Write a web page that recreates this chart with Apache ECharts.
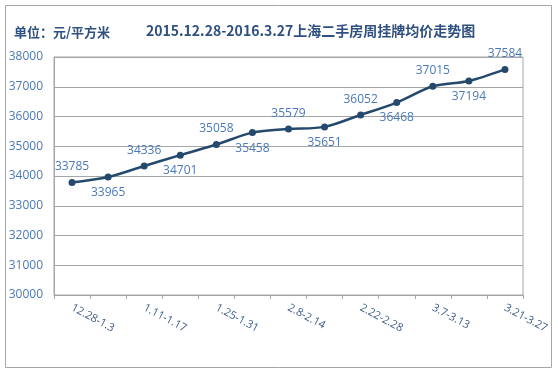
<!DOCTYPE html>
<html><head><meta charset="utf-8">
<script src="https://cdn.jsdelivr.net/npm/echarts@6/dist/echarts.min.js"></script>
<style>html,body{margin:0;padding:0;background:#fff}#c{width:558px;height:373px}</style>
</head><body><div id="c"></div>
<script>
var categories = ['12.28-1.3','1.4-1.10','1.11-1.17','1.18-1.24','1.25-1.31','2.1-2.7','2.8-2.14','2.15-2.21','2.22-2.28','2.29-3.6','3.7-3.13','3.14-3.20','3.21-3.27'];
var prices = [33785,33965,34336,34701,35058,35458,35579,35651,36052,36468,37015,37194,37584];
var labelSide = ['top','bottom','top','bottom','top','bottom','top','bottom','top','bottom','top','bottom','top'];
var yTicks = [30000,31000,32000,33000,34000,35000,36000,37000,38000];

var chart = echarts.init(document.getElementById('c'));
chart.setOption({
  animation:false,
  graphic:[
    {type:'rect',shape:{x:5.5,y:5.5,width:546,height:362},style:{fill:'none',stroke:'#a6a6a6',lineWidth:1}},
    {type:'text',left:14,top:26,style:{text:'单位：元/平方米',font:'bold 13px "Noto Sans CJK SC"',fill:'#2f5080'}},
    {type:'text',left:146,top:24,style:{text:'2015.12.28-2016.3.27上海二手房周挂牌均价走势图',font:'bold 14px "Noto Sans CJK SC"',fill:'#2f5080'}}
  ],
  grid:{left:54,right:35,top:57,bottom:78,show:true,borderColor:'#a6a6a6',borderWidth:1},
  xAxis:{type:'category',data:categories,boundaryGap:true,
    axisLine:{lineStyle:{color:'#a6a6a6'}},
    axisTick:{show:true,alignWithLabel:false,interval:0,length:4,lineStyle:{color:'#a6a6a6'}},
    axisLabel:{interval:1,rotate:-28,color:'#3b5a85',fontSize:11,fontFamily:'Open Sans',margin:12}},
  yAxis:{type:'value',min:yTicks[0],max:yTicks[yTicks.length-1],interval:1000,
    axisLine:{show:true,lineStyle:{color:'#a6a6a6'}},
    axisTick:{show:false},
    splitLine:{lineStyle:{color:'#a6a6a6',width:1}},
    axisLabel:{color:'#4a78b8',fontSize:12,fontFamily:'Open Sans',margin:11,formatter:function(v){return String(v);}}},
  series:[{type:'line',smooth:0.3,data:prices.map(function(v,i){return {value:v,label:{position:labelSide[i]}};}),
    symbol:'circle',symbolSize:7,
    lineStyle:{color:'#24496d',width:2.5},
    itemStyle:{color:'#24496d'},
    label:{show:true,color:'#4a78b8',fontSize:12,fontFamily:'Open Sans',distance:6}}]
});
</script></body></html>
